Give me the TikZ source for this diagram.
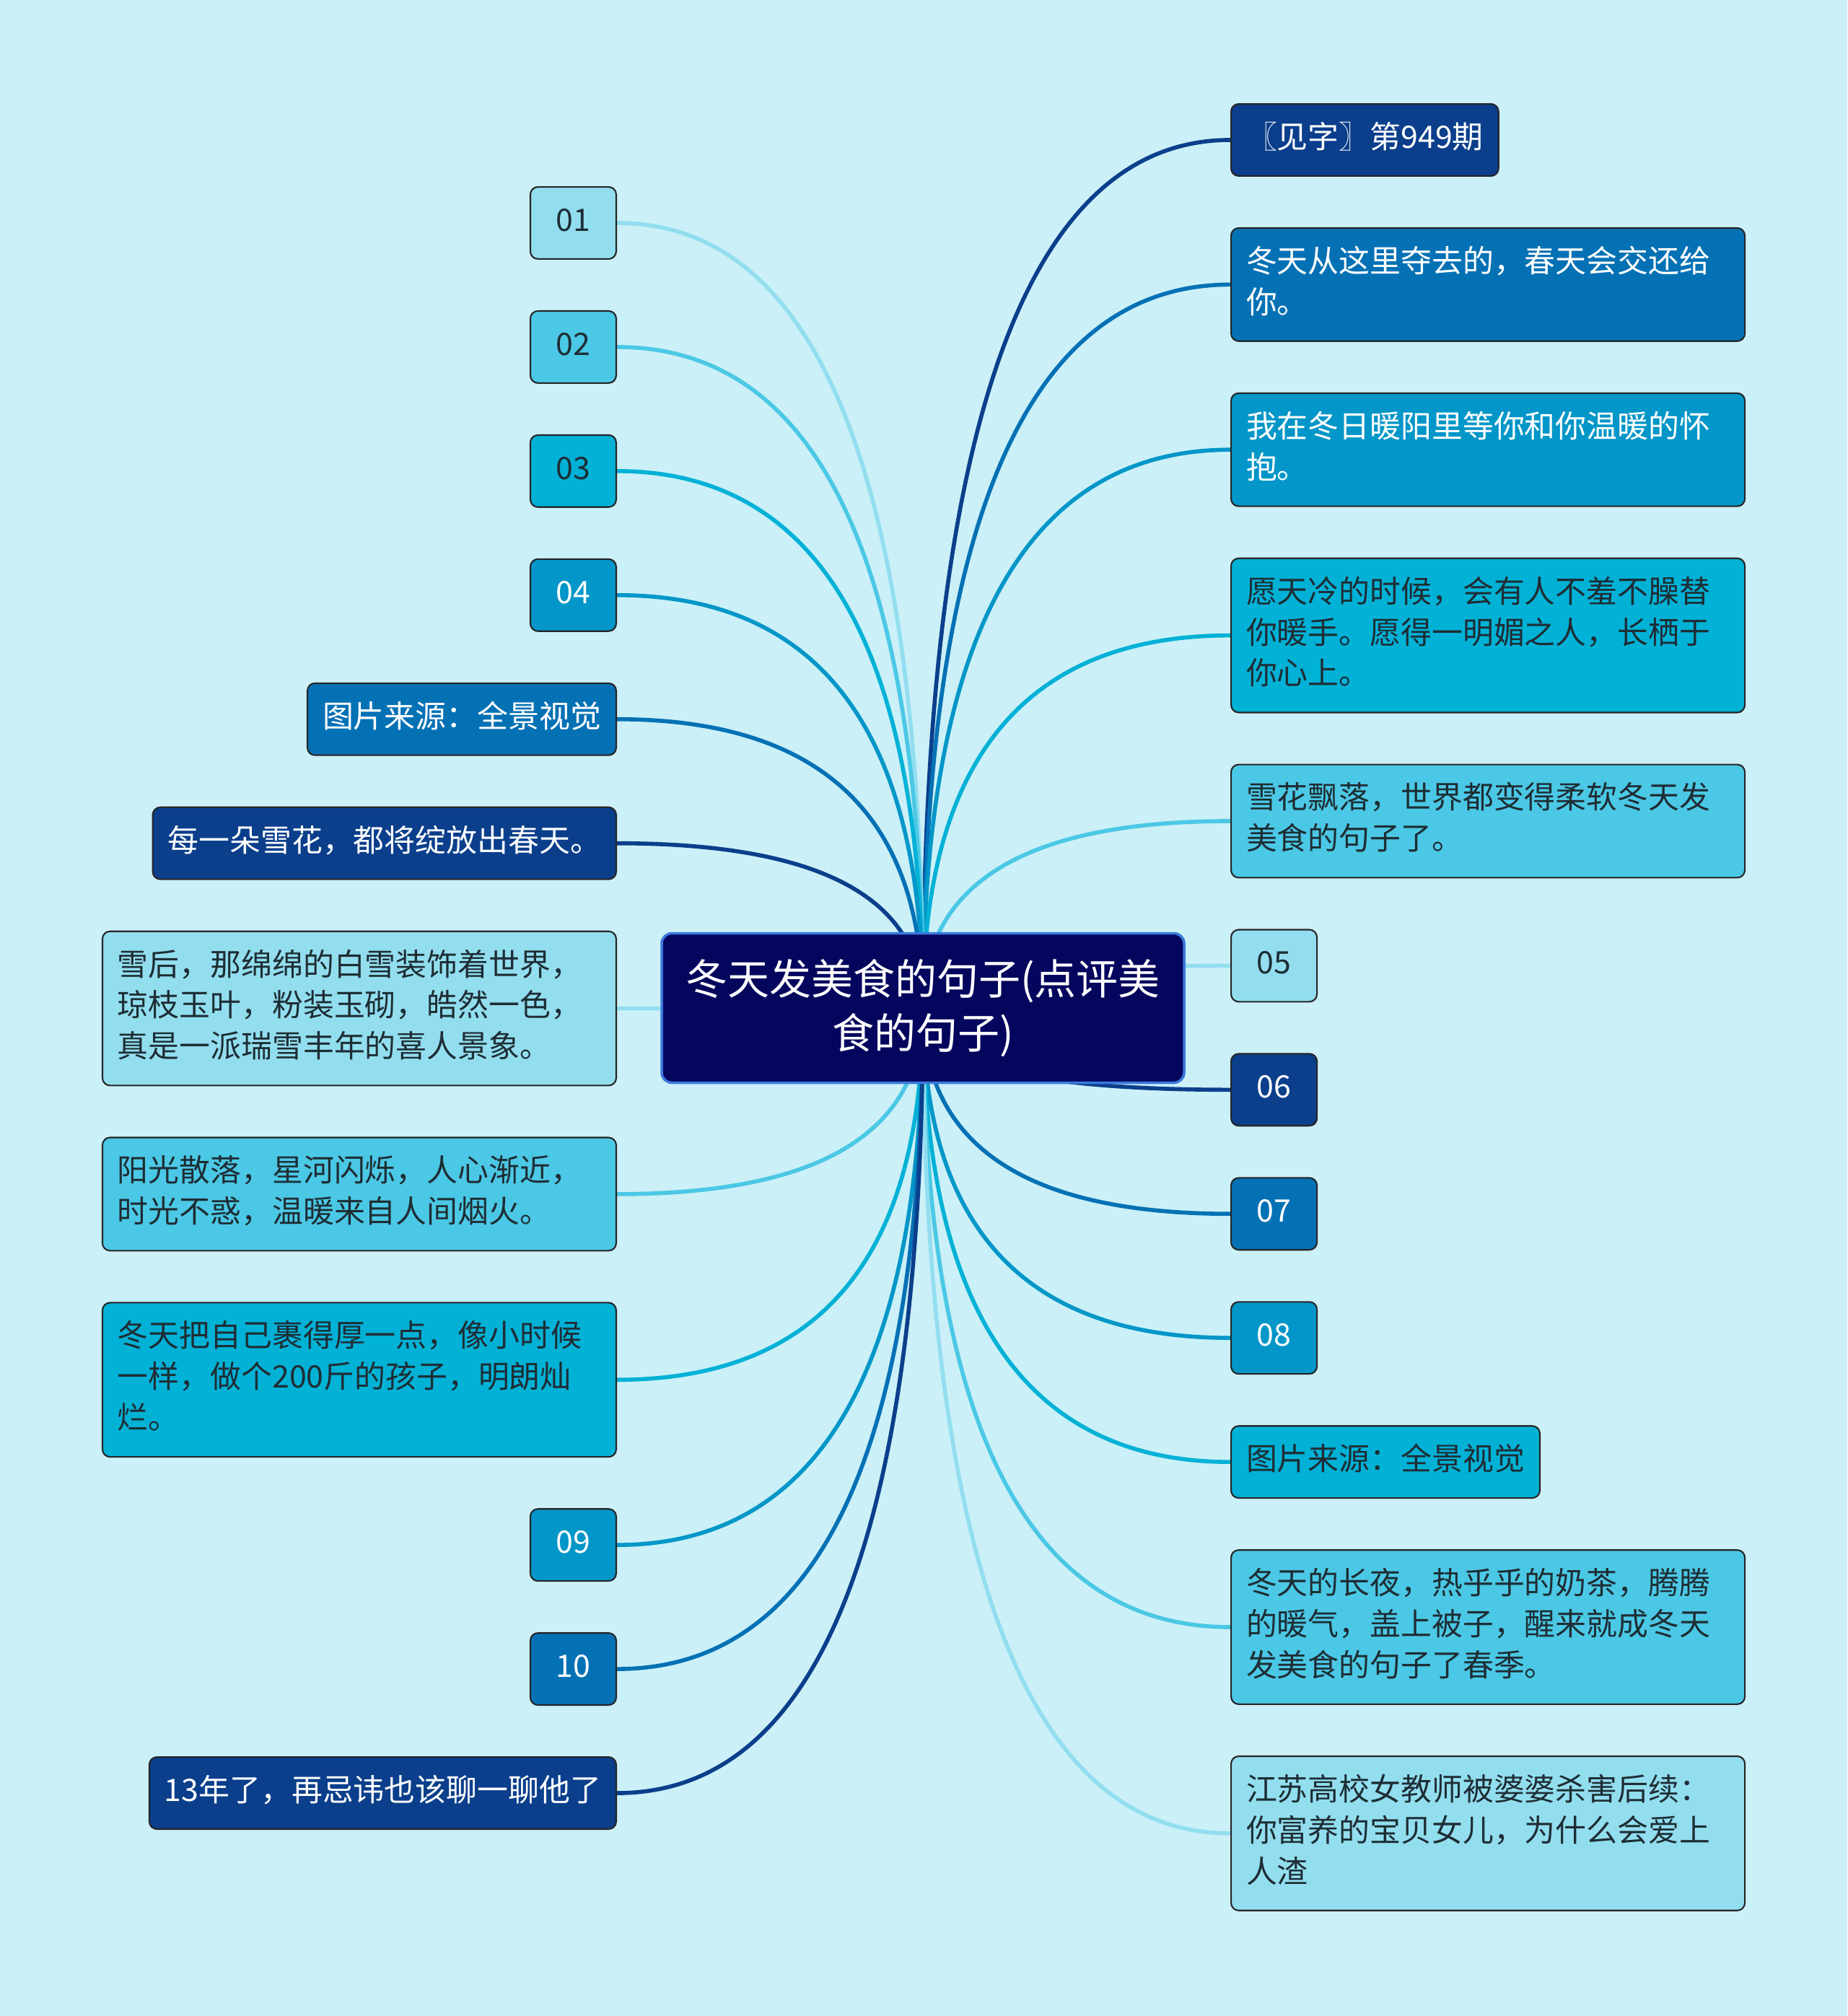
\documentclass[tikz,border=0pt]{standalone}
\usepackage{fontspec}
\setmainfont{Noto Sans CJK SC}
\usetikzlibrary{positioning,calc,backgrounds}
\definecolor{paper}{HTML}{CBF0F7}
\definecolor{inkA}{HTML}{0B3F8C}
\definecolor{inkB}{HTML}{0571B5}
\definecolor{inkC}{HTML}{0396C8}
\definecolor{inkD}{HTML}{02B1D6}
\definecolor{inkE}{HTML}{4BC8E5}
\definecolor{inkF}{HTML}{92DEEF}
\definecolor{txtdark}{HTML}{1E2D34}
\definecolor{hubfill}{HTML}{04065E}
\definecolor{hubline}{HTML}{3A78DC}

\begin{document}
\begin{tikzpicture}[
  font=\fontsize{12.2}{16.2}\selectfont,
  hub/.style={draw=hubline, line width=1pt, fill=hubfill, rounded corners=4pt,
    text=white, align=center, minimum width=7.24cm, minimum height=2.07cm,
    font=\fontsize{16.5}{21.3}\selectfont},
  leaf/.style={draw=black!85, line width=0.6pt, rounded corners=3pt, align=left,
    inner xsep=0.21cm, inner ysep=0.2145cm, minimum width=1.19cm,
    execute at begin node=\strut, execute at end node=\strut},
  wide/.style={leaf, text width=6.7cm},
  cA/.style={fill=inkA, text=white},
  cB/.style={fill=inkB, text=white},
  cC/.style={fill=inkC, text=white},
  cD/.style={fill=inkD, text=txtdark},
  cE/.style={fill=inkE, text=txtdark},
  cF/.style={fill=inkF, text=txtdark},
  link/.style={line width=1.6pt}
]
\useasboundingbox (0,0) rectangle (25.6,-27.94);

\node[hub] (hub) at (12.79,-13.97) {冬天发美食的句子(点评美\\食的句子)};

% right side
\node[leaf, cA, anchor=north west] (r1) at (17.05,-1.43) {〖见字〗第949期};
\node[wide, cB, below=7mm of r1.south west, anchor=north west] (r2) {冬天从这里夺去的，春天会交还给\\你。};
\node[wide, cC, below=7mm of r2.south west, anchor=north west] (r3) {我在冬日暖阳里等你和你温暖的怀\\抱。};
\node[wide, cD, below=7mm of r3.south west, anchor=north west] (r4) {愿天冷的时候，会有人不羞不臊替\\你暖手。愿得一明媚之人，长栖于\\你心上。};
\node[wide, cE, below=7mm of r4.south west, anchor=north west] (r5) {雪花飘落，世界都变得柔软冬天发\\美食的句子了。};
\node[leaf, cF, below=7mm of r5.south west, anchor=north west] (r6) {05};
\node[leaf, cA, below=7mm of r6.south west, anchor=north west] (r7) {06};
\node[leaf, cB, below=7mm of r7.south west, anchor=north west] (r8) {07};
\node[leaf, cC, below=7mm of r8.south west, anchor=north west] (r9) {08};
\node[leaf, cD, below=7mm of r9.south west, anchor=north west] (r10) {图片来源：全景视觉};
\node[wide, cE, below=7mm of r10.south west, anchor=north west] (r11) {冬天的长夜，热乎乎的奶茶，腾腾\\的暖气，盖上被子，醒来就成冬天\\发美食的句子了春季。};
\node[wide, cF, below=7mm of r11.south west, anchor=north west] (r12) {江苏高校女教师被婆婆杀害后续：\\你富养的宝贝女儿，为什么会爱上\\人渣};

% left side
\node[leaf, cF, anchor=north east] (l1) at (8.55,-2.58) {01};
\node[leaf, cE, below=7mm of l1.south east, anchor=north east] (l2) {02};
\node[leaf, cD, below=7mm of l2.south east, anchor=north east] (l3) {03};
\node[leaf, cC, below=7mm of l3.south east, anchor=north east] (l4) {04};
\node[leaf, cB, below=7mm of l4.south east, anchor=north east] (l5) {图片来源：全景视觉};
\node[leaf, cA, below=7mm of l5.south east, anchor=north east] (l6) {每一朵雪花，都将绽放出春天。};
\node[wide, cF, below=7mm of l6.south east, anchor=north east] (l7) {雪后，那绵绵的白雪装饰着世界，\\琼枝玉叶，粉装玉砌，皓然一色，\\真是一派瑞雪丰年的喜人景象。};
\node[wide, cE, below=7mm of l7.south east, anchor=north east] (l8) {阳光散落，星河闪烁，人心渐近，\\时光不惑，温暖来自人间烟火。};
\node[wide, cD, below=7mm of l8.south east, anchor=north east] (l9) {冬天把自己裹得厚一点，像小时候\\一样，做个200斤的孩子，明朗灿\\烂。};
\node[leaf, cC, below=7mm of l9.south east, anchor=north east] (l10) {09};
\node[leaf, cB, below=7mm of l10.south east, anchor=north east] (l11) {10};
\node[leaf, cA, below=7mm of l11.south east, anchor=north east] (l12) {13年了，再忌讳也该聊一聊他了};

\begin{scope}[on background layer]
\fill[paper] (0,0) rectangle (25.6,-27.94);
\foreach \n/\c in {r1/inkA,r2/inkB,r3/inkC,r4/inkD,r5/inkE,r6/inkF,r7/inkA,r8/inkB,r9/inkC,r10/inkD,r11/inkE,r12/inkF}{
  \coordinate (k) at (\n.west -| hub.center);
  \draw[link, \c] (hub.center) .. controls ($(hub.center)!2/3!(k)$) and ($(\n.west)!2/3!(k)$) .. (\n.west);
}
\foreach \n/\c in {l1/inkF,l2/inkE,l3/inkD,l4/inkC,l5/inkB,l6/inkA,l7/inkF,l8/inkE,l9/inkD,l10/inkC,l11/inkB,l12/inkA}{
  \coordinate (k) at (\n.east -| hub.center);
  \draw[link, \c] (hub.center) .. controls ($(hub.center)!2/3!(k)$) and ($(\n.east)!2/3!(k)$) .. (\n.east);
}
\end{scope}
\end{tikzpicture}
\end{document}
